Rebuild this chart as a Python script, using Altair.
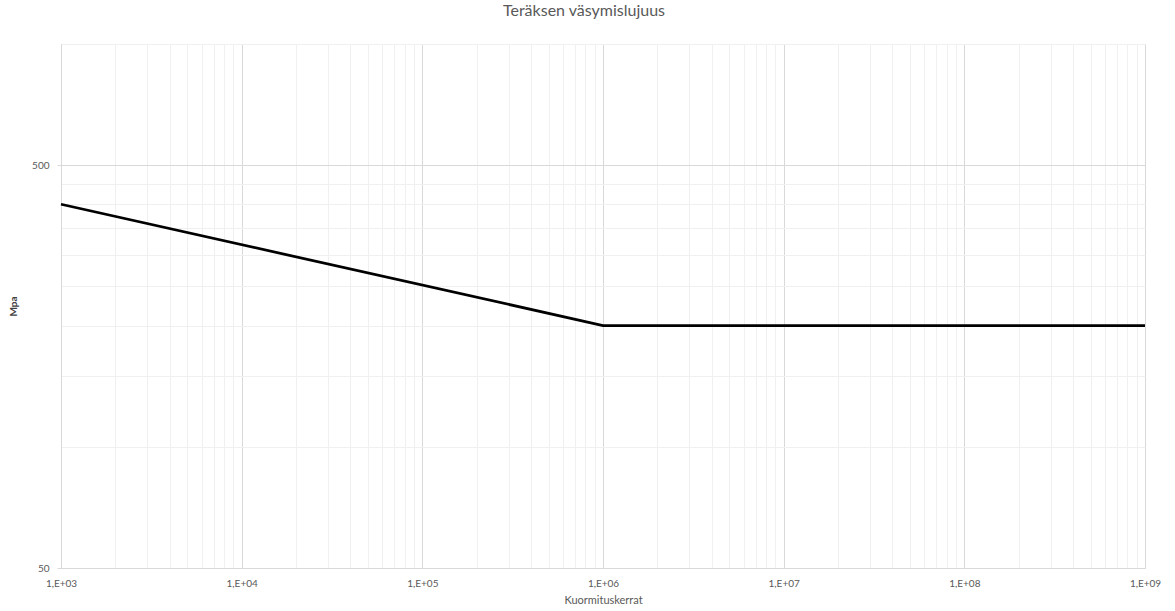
import altair as alt
import pandas as pd

# Data
cycles = [1e3, 1e6, 1e9]
stress = [400, 200, 200]

x_major = [1e3, 1e4, 1e5, 1e6, 1e7, 1e8, 1e9]
x_grid = [m * d for d in [1e3, 1e4, 1e5, 1e6, 1e7, 1e8] for m in range(1, 10)] + [1e9]
y_major = [50, 500]
y_grid = [50, 100, 150, 200, 250, 300, 350, 400, 450, 500, 1000]

df = pd.DataFrame({"Kuormituskerrat": cycles, "Mpa": stress})

GRID_MAJOR = "#d9d9d9"
GRID_MINOR = "#f0f0f0"
TXT = "#595959"
FONT = "Lato"

x_is_major = "abs(log(datum.value)/LN10 - round(log(datum.value)/LN10)) < 1e-6"
y_is_major = "datum.value == 50 || datum.value == 500"

x_axis = alt.Axis(
    title="Kuormituskerrat",
    values=x_grid,
    labelExpr="(" + x_is_major + ") ? '1,E+0' + round(log(datum.value)/LN10) : ''",
    labelOverlap=False,
    labelFlush=False,
    ticks=False,
    labelPadding=10,
    labelFont=FONT,
    labelFontSize=10,
    labelColor=TXT,
    titleFont=FONT,
    titleFontSize=11,
    titleFontWeight="normal",
    titleColor=TXT,
    titlePadding=6,
    domainColor=GRID_MAJOR,
    gridColor={"condition": {"test": x_is_major, "value": GRID_MAJOR}, "value": GRID_MINOR},
)

y_axis = alt.Axis(
    title="Mpa",
    values=y_grid,
    labelExpr="(" + y_is_major + ") ? datum.label : ''",
    labelOverlap=False,
    labelFlush=False,
    tickSize=4,
    tickColor={"condition": {"test": y_is_major, "value": GRID_MAJOR}, "value": "transparent"},
    labelPadding=8,
    labelFont=FONT,
    labelFontSize=10,
    labelColor=TXT,
    titleFont=FONT,
    titleFontSize=10,
    titleFontWeight="bold",
    titleColor="#404040",
    titlePadding=13,
    domainColor=GRID_MAJOR,
    gridColor={"condition": {"test": y_is_major, "value": GRID_MAJOR}, "value": GRID_MINOR},
)

chart = (
    alt.Chart(df)
    .mark_line(color="black", strokeWidth=2.75)
    .encode(
        x=alt.X("Kuormituskerrat:Q", scale=alt.Scale(type="log", domain=[1e3, 1e9], nice=False), axis=x_axis),
        y=alt.Y("Mpa:Q", scale=alt.Scale(type="log", domain=[50, 1000], nice=False), axis=y_axis),
    )
    .properties(
        width=1084,
        height=524,
        title=alt.TitleParams(
            "Teräksen väsymislujuus",
            font=FONT,
            fontSize=16,
            fontWeight="normal",
            color=TXT,
            offset=20,
            dx=-19,
        ),
        autosize=alt.AutoSizeParams(type="none"),
        padding={"left": 61, "top": 44, "right": 30, "bottom": 43},
    )
    .configure_view(stroke=None)
    .configure(background="white")
)

chart.save("out.html", embed_options={"renderer": "svg", "actions": False})
